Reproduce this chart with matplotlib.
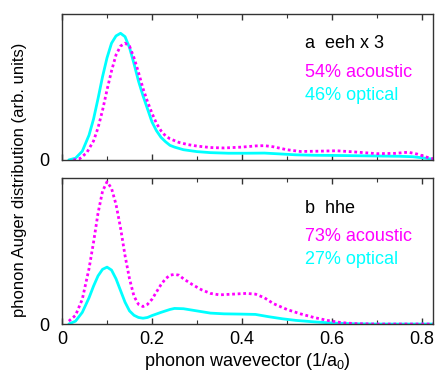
import matplotlib
matplotlib.use('Agg')
import matplotlib.pyplot as plt

plt.rcParams['font.family'] = ['Liberation Sans', 'DejaVu Sans']
plt.rcParams['mathtext.fontset'] = 'custom'
plt.rcParams['mathtext.rm'] = 'Liberation Sans'
plt.rcParams['mathtext.it'] = 'Liberation Sans'

# panel a: eeh x 3
a_opt_q = [0.015, 0.03, 0.045, 0.06, 0.07, 0.08, 0.09, 0.10, 0.11, 0.12, 0.13, 0.14, 0.15, 0.16,
           0.17, 0.18, 0.19, 0.20, 0.21, 0.22, 0.23, 0.24, 0.25, 0.27, 0.30, 0.33, 0.37, 0.41,
           0.45, 0.48, 0.52, 0.56, 0.60, 0.65, 0.70, 0.75, 0.78, 0.80, 0.825]
a_opt = [0.0, 0.012, 0.06, 0.17, 0.28, 0.42, 0.57, 0.70, 0.80, 0.85, 0.868, 0.845, 0.77, 0.66,
         0.54, 0.44, 0.35, 0.26, 0.20, 0.155, 0.125, 0.10, 0.088, 0.07, 0.057, 0.05, 0.046, 0.046,
         0.047, 0.042, 0.035, 0.032, 0.031, 0.029, 0.027, 0.025, 0.022, 0.015, 0.005]
a_ac_q = [0.025, 0.04, 0.055, 0.07, 0.08, 0.09, 0.10, 0.11, 0.12, 0.13, 0.14, 0.15, 0.16, 0.17,
          0.18, 0.19, 0.20, 0.21, 0.22, 0.23, 0.24, 0.26, 0.28, 0.30, 0.33, 0.36, 0.40, 0.43,
          0.45, 0.47, 0.50, 0.53, 0.57, 0.61, 0.65, 0.70, 0.74, 0.77, 0.79, 0.81, 0.825]
a_ac = [0.0, 0.01, 0.05, 0.13, 0.22, 0.34, 0.48, 0.61, 0.72, 0.78, 0.80, 0.78, 0.70, 0.60,
        0.49, 0.40, 0.32, 0.25, 0.20, 0.165, 0.145, 0.12, 0.105, 0.095, 0.085, 0.082, 0.088, 0.096,
        0.098, 0.09, 0.07, 0.058, 0.06, 0.063, 0.055, 0.043, 0.045, 0.053, 0.04, 0.02, 0.008]

# panel b: hhe
b_opt_q = [0.015, 0.03, 0.045, 0.06, 0.07, 0.08, 0.09, 0.10, 0.11, 0.12, 0.13, 0.14, 0.15, 0.16,
           0.17, 0.18, 0.19, 0.20, 0.22, 0.24, 0.25, 0.27, 0.30, 0.33, 0.36, 0.40, 0.43, 0.46,
           0.49, 0.52, 0.56, 0.60, 0.65, 0.70, 0.825]
b_opt = [0.0, 0.02, 0.08, 0.18, 0.26, 0.33, 0.375, 0.39, 0.37, 0.31, 0.23, 0.15, 0.09, 0.06,
         0.045, 0.04, 0.045, 0.058, 0.08, 0.10, 0.107, 0.105, 0.09, 0.075, 0.07, 0.068, 0.066, 0.05,
         0.036, 0.025, 0.015, 0.007, 0.002, 0.0, 0.0]
b_ac_q = [0.015, 0.03, 0.045, 0.06, 0.07, 0.08, 0.09, 0.10, 0.11, 0.12, 0.13, 0.14, 0.15, 0.16,
          0.17, 0.18, 0.19, 0.20, 0.21, 0.22, 0.23, 0.24, 0.25, 0.26, 0.27, 0.29, 0.31, 0.33,
          0.35, 0.38, 0.41, 0.43, 0.45, 0.47, 0.50, 0.53, 0.56, 0.59, 0.62, 0.65, 0.70, 0.825]
b_ac = [0.02, 0.06, 0.17, 0.38, 0.56, 0.76, 0.91, 0.975, 0.93, 0.82, 0.66, 0.47, 0.31, 0.19,
        0.135, 0.12, 0.135, 0.17, 0.22, 0.27, 0.31, 0.335, 0.34, 0.335, 0.31, 0.27, 0.235, 0.21,
        0.2, 0.205, 0.21, 0.205, 0.18, 0.14, 0.10, 0.07, 0.045, 0.025, 0.01, 0.003, 0.0, 0.0]

major_ticks = [0, 0.2, 0.4, 0.6, 0.8]
major_labels = ['0', '0.2', '0.4', '0.6', '0.8']
minor_ticks = [0.1, 0.3, 0.5, 0.7]

panels = [
    (a_ac_q, a_ac, a_opt_q, a_opt, 'a  eeh x 3', '54% acoustic', '46% optical'),
    (b_ac_q, b_ac, b_opt_q, b_opt, 'b  hhe', '73% acoustic', '27% optical'),
]

fig = plt.figure(figsize=(4.37, 3.79), dpi=100)
ax_top = fig.add_axes([0.142, 0.578, 0.849, 0.385])
ax_bot = fig.add_axes([0.142, 0.145, 0.849, 0.385])

for ax, (acq, ac, opq, op, title, lab_ac, lab_op) in zip([ax_top, ax_bot], panels):
    ax.plot(opq, op, color='cyan', lw=2, solid_capstyle='round')
    ax.plot(acq, ac, color='magenta', lw=2, linestyle=(0, (1, 1)))
    ax.set_xlim(0, 0.825)
    ax.set_ylim(0, 1.0)
    ax.set_yticks([0])
    ax.set_xticks(major_ticks)
    ax.set_xticks(minor_ticks, minor=True)
    ax.tick_params(axis='x', which='both', direction='in', top=True, bottom=True, color='#333333')
    ax.tick_params(axis='x', which='major', length=4, width=1, labelsize=13, pad=5)
    ax.tick_params(axis='x', which='minor', length=3, width=0.8)
    ax.tick_params(axis='y', length=0, labelsize=13, pad=9)
    for s in ax.spines.values():
        s.set_color('#333333')
        s.set_linewidth(1)
    ax.text(0.655, 0.795, title, transform=ax.transAxes, fontsize=13, va='center', color='black')
    ax.text(0.655, 0.60, lab_ac, transform=ax.transAxes, fontsize=13, va='center', color='magenta')
    ax.text(0.655, 0.445, lab_op, transform=ax.transAxes, fontsize=13, va='center', color='cyan')

ax_top.set_xticklabels([])
ax_bot.set_xticklabels(major_labels)
ax_bot.set_xlabel('phonon wavevector (1/a$_0$)', fontsize=13, labelpad=2)
fig.text(0.045, 0.525, 'phonon Auger distribution (arb. units)', rotation=90,
         fontsize=12, ha='center', va='center')

fig.savefig('out.png', dpi=100)
